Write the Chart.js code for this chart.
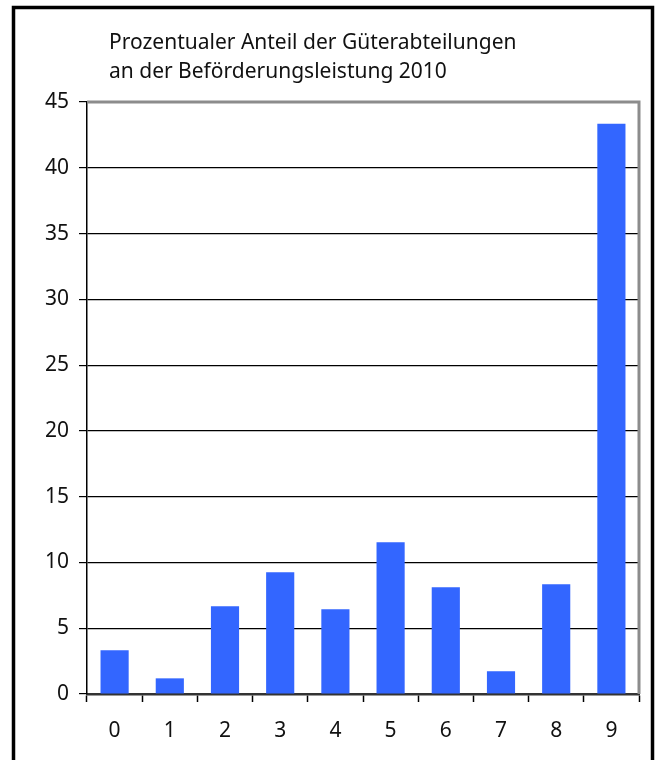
<!DOCTYPE html>
<html>
<head>
<meta charset="utf-8">
<script src="https://cdn.jsdelivr.net/npm/chart.js@4"></script>
<style>
  html, body { margin: 0; padding: 0; background: #fff; }
  #wrap { width: 656px; height: 760px; }
</style>
</head>
<body>
<div id="wrap"><canvas id="chart" width="656" height="760"></canvas></div>
<script>
// Data
const categories = ['0', '1', '2', '3', '4', '5', '6', '7', '8', '9'];
const shares = [3.32, 1.19, 6.67, 9.25, 6.44, 11.53, 8.11, 1.73, 8.34, 43.35];
const titleLines = ['Prozentualer Anteil der Güterabteilungen', 'an der Beförderungsleistung 2010'];
const yMax = 45;
const yStep = 5;

const FONT = '"Noto Sans", sans-serif';

// frame, title and the grey plot border
const decor = {
  id: 'decor',
  beforeDraw(chart) {
    const ctx = chart.ctx;
    ctx.save();
    ctx.fillStyle = '#fff';
    ctx.fillRect(0, 0, chart.width, chart.height);
    ctx.strokeStyle = '#000';
    ctx.lineWidth = 3.5;
    ctx.strokeRect(13.5, 7.5, 639, 780);
    ctx.fillStyle = '#111';
    ctx.font = '21px ' + FONT;
    ctx.textBaseline = 'alphabetic';
    titleLines.forEach((line, i) => ctx.fillText(line, 109, 49 + i * 29));
    ctx.restore();
  },
  afterDatasetsDraw(chart) {
    const { ctx, chartArea: a } = chart;
    ctx.save();
    ctx.strokeStyle = '#8c8c8c';
    ctx.lineWidth = 3;
    ctx.beginPath();
    ctx.moveTo(a.left, a.top);
    ctx.lineTo(a.right, a.top);
    ctx.lineTo(a.right, a.bottom);
    ctx.stroke();
    ctx.restore();
  }
};

const ctx = document.getElementById('chart').getContext('2d');
new Chart(ctx, {
  type: 'bar',
  data: {
    labels: categories,
    datasets: [{
      data: shares,
      backgroundColor: '#3366ff',
      borderWidth: 0,
      barPercentage: 0.51,
      categoryPercentage: 1
    }]
  },
  options: {
    responsive: false,
    animation: false,
    layout: { padding: { left: 0, right: 17, top: 102, bottom: 0 } },
    plugins: {
      legend: { display: false },
      title: { display: false },
      tooltip: { enabled: false }
    },
    scales: {
      x: {
        offset: true,
        grid: {
          offset: true,
          drawOnChartArea: false,
          tickLength: 8,
          tickColor: '#000',
          tickWidth: 1.5
        },
        border: { color: '#333', width: 2.5 },
        ticks: { color: '#111', font: { family: FONT, size: 21 }, padding: 16 },
        afterFit(scale) { scale.height = 66; }
      },
      y: {
        min: 0,
        max: yMax,
        ticks: {
          stepSize: yStep,
          color: '#111',
          font: { family: FONT, size: 21 },
          padding: 10
        },
        grid: {
          color: (c) => (c.tick && (c.tick.value === 0 || c.tick.value === yMax)) ? 'rgba(0,0,0,0)' : '#000',
          tickColor: '#000',
          tickLength: 8,
          lineWidth: 1.2
        },
        border: { color: '#000', width: 1.5 },
        afterFit(scale) { scale.width = 87; }
      }
    }
  },
  plugins: [decor]
});
</script>
</body>
</html>
